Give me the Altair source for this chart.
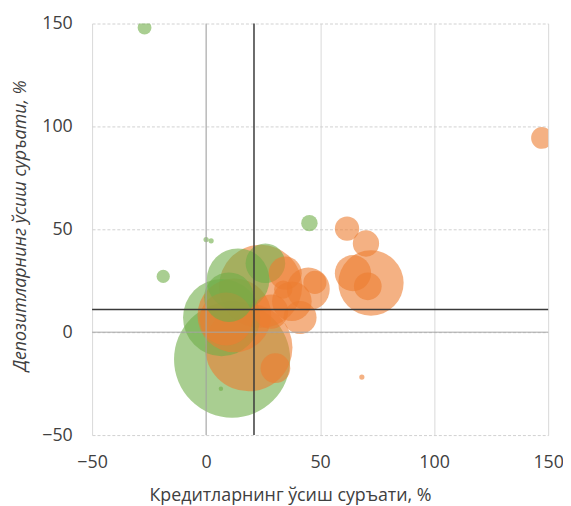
import altair as alt
import pandas as pd

# Green group: credit growth (%), deposit growth (%), bubble size (assets, arbitrary units)
green_credit = [-27.0, 0.0, 2.2, -18.8, 6.5, 11.4, 6.8, 14.0, 10.0, 26.0, 45.3]
green_deposit = [148.0, 45.0, 44.4, 27.1, -27.5, -13.3, 7.1, 25.5, 17.0, 33.5, 53.0]
green_assets = [49, 7, 7, 45, 5, 3446, 1521, 1000, 625, 400, 69]

# Orange group
orange_credit = [147.3, 61.8, 70.1, 72.3, 64.4, 70.9, 44.8, 47.7, 41.2, 34.7, 37.6,
                 68.3, 30.4, 18.7, 12.4, 23.9, 8.8, 33.8, 28.5]
orange_deposit = [94.4, 50.3, 43.1, 23.9, 28.7, 22.3, 21.0, 24.2, 7.1, 28.7, 15.0,
                  -21.8, -17.5, -7.5, 8.2, 22.3, 6.4, 20.7, 10.0]
orange_assets = [121, 151, 177, 1089, 335, 196, 471, 137, 279, 279, 400,
                 7, 225, 1954, 1391, 1764, 713, 86, 300]

mean_credit = [21]
mean_deposit = [11]
tick_values = [-50, 0, 50, 100, 150]

x_title = "Кредитларнинг ўсиш суръати, %"
y_title = "Депозитларнинг ўсиш суръати, %"

df = pd.DataFrame({
    "credit": green_credit + orange_credit,
    "deposit": green_deposit + orange_deposit,
    "assets": green_assets + orange_assets,
    "group": ["green"] * len(green_credit) + ["orange"] * len(orange_credit),
})

max_assets = max(df["assets"])
x_scale = alt.Scale(domain=[-50, 150], nice=False, zero=False)
y_scale = alt.Scale(domain=[-50, 150], nice=False, zero=False)

points = alt.Chart(df).mark_circle(opacity=0.6, clip=True).encode(
    x=alt.X("credit:Q", scale=x_scale,
            axis=alt.Axis(values=tick_values, title=x_title, grid=True,
                          gridColor="#d9d9d9", gridWidth=1, labelFlush=False,
                          labelPadding=19, titleX=200, titleY=66,
                          titleAlign="center", titleBaseline="alphabetic")),
    y=alt.Y("deposit:Q", scale=y_scale,
            axis=alt.Axis(values=tick_values, title=y_title, grid=True,
                          gridColor="#d0d0d0", gridWidth=1, gridDash=[3, 2],
                          labelFlush=False,
                          labelPadding=20, titleX=-72, titleY=204,
                          titleAngle=270, titleAlign="center",
                          titleBaseline="middle", titleFontStyle="italic")),
    size=alt.Size("assets:Q",
                  scale=alt.Scale(domain=[0, max_assets], range=[0, 4 * max_assets]),
                  legend=None),
    color=alt.Color("group:N",
                    scale=alt.Scale(domain=["green", "orange"], range=["#70AD47", "#ED7D31"]),
                    legend=None),
    order=alt.Order("assets:Q", sort="descending"),
)

zero_v = alt.Chart(pd.DataFrame({"credit": [0]})).mark_rule(
    color="#a6a6a6", strokeWidth=1).encode(x=alt.X("credit:Q", scale=x_scale))
zero_h = alt.Chart(pd.DataFrame({"deposit": [0]})).mark_rule(
    color="#a6a6a6", strokeWidth=1).encode(y=alt.Y("deposit:Q", scale=y_scale))

mean_v = alt.Chart(pd.DataFrame({"credit": mean_credit})).mark_rule(
    color="#3a3a3a", strokeWidth=1.5).encode(x=alt.X("credit:Q", scale=x_scale))
mean_h = alt.Chart(pd.DataFrame({"deposit": mean_deposit})).mark_rule(
    color="#3a3a3a", strokeWidth=1.5).encode(y=alt.Y("deposit:Q", scale=y_scale))

chart = alt.layer(points, zero_v, zero_h, mean_v, mean_h).properties(
    width=461,
    height=416,
    autosize=alt.AutoSizeParams(type="none"),
    padding={"left": 85, "top": 13, "right": 15, "bottom": 69},
).configure_view(
    strokeWidth=0
).configure_axis(
    domain=False,
    ticks=False,
    tickSize=0,
    labelFont="Open Sans",
    labelFontSize=18,
    labelColor="#404040",
    titleFont="Open Sans",
    titleFontSize=18,
    titleFontWeight="normal",
    titleColor="#404040",
)

chart.save("out.html", embed_options={"renderer": "svg", "actions": False})
